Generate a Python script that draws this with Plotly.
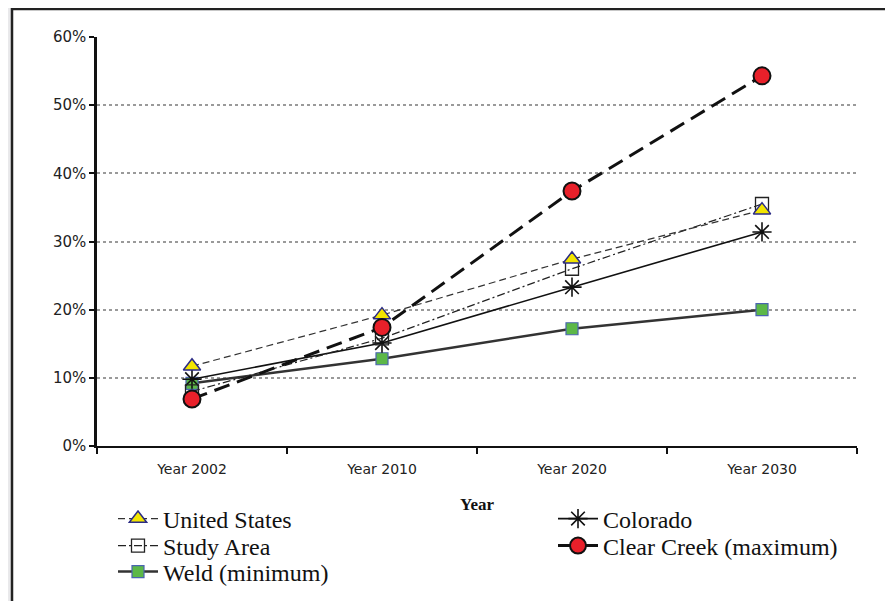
import plotly.graph_objects as go

years = ["Year 2002", "Year 2010", "Year 2020", "Year 2030"]
united_states = [11.7, 19.2, 27.4, 34.6]
study_area = [8.0, 15.8, 26.0, 35.5]
colorado = [9.8, 15.1, 23.3, 31.4]
clear_creek = [6.9, 17.4, 37.4, 54.3]
weld = [9.2, 12.8, 17.2, 20.0]
y_ticks = [0, 10, 20, 30, 40, 50, 60]
y_tick_labels = ["0%", "10%", "20%", "30%", "40%", "50%", "60%"]

# The page body adds an 8px margin, so the figure is 8px smaller and margins shifted.
W, H = 885, 593
ML, MR, MT, MB = 89, 36, 29, 155
PW, PH = W - ML - MR, H - MT - MB


def px_x(x):
    return (x - 8 - ML) / PW


def px_y(y):
    return (H - MB - (y - 8)) / PH


fig = go.Figure()

fig.add_trace(go.Scatter(
    x=years, y=weld, name="Weld (minimum)", mode="lines+markers", legend="legend3",
    line=dict(color="#333333", width=2.5),
    marker=dict(symbol="square", size=12, color="#5cb848", line=dict(color="#4a64b0", width=1.2)),
))
fig.add_trace(go.Scatter(
    x=years, y=colorado, name="Colorado", mode="lines+markers", legend="legend4",
    line=dict(color="#111111", width=1.6),
    marker=dict(symbol="asterisk-open", size=16, color="#111111", line=dict(color="#111111", width=1.6)),
))
fig.add_trace(go.Scatter(
    x=years, y=study_area, name="Study Area", mode="lines+markers", legend="legend2",
    line=dict(color="#222222", width=1.2, dash="8px,3px,2px,3px"),
    marker=dict(symbol="square-open", size=13, color="#222222", line=dict(color="#222222", width=1.3)),
))
fig.add_trace(go.Scatter(
    x=years, y=united_states, name="United States", mode="lines+markers", legend="legend",
    line=dict(color="#333333", width=1.2, dash="7px,4px"),
    marker=dict(symbol="triangle-up", size=15, color="#f2e500", line=dict(color="#2b2b85", width=1.5)),
))
fig.add_trace(go.Scatter(
    x=years, y=clear_creek, name="Clear Creek (maximum)", mode="lines+markers", legend="legend5",
    line=dict(color="#111111", width=3, dash="16px,8px"),
    marker=dict(symbol="circle", size=17, color="#e8202a", line=dict(color="#111111", width=2)),
))

legend_font = dict(family="Liberation Serif, Times New Roman, serif", size=24, color="#111111")


def leg(xpx, ypx):
    return dict(orientation="v", x=px_x(xpx), y=px_y(ypx), xanchor="left", yanchor="middle",
                font=legend_font, bgcolor="rgba(0,0,0,0)", itemwidth=40, tracegroupgap=0)


fig.update_layout(
    width=W, height=H,
    margin=dict(l=ML, r=MR, t=MT, b=MB, autoexpand=False),
    paper_bgcolor="#e9e9eb",
    plot_bgcolor="rgba(0,0,0,0)",
    showlegend=True,
    legend=leg(113, 519),
    legend2=leg(113, 546),
    legend3=leg(113, 572),
    legend4=leg(553, 519),
    legend5=leg(553, 546),
    xaxis=dict(
        type="category", range=[-0.5, 3.5], tickson="boundaries",
        showline=True, linecolor="#111111", linewidth=2,
        ticks="outside", ticklen=6, tickcolor="#111111", tickwidth=2,
        ticklabelstandoff=9,
        showgrid=False,
        tickfont=dict(family="DejaVu Sans, Verdana, sans-serif", size=14, color="#222222"),
        title=dict(text="<b>Year</b>", standoff=22,
                   font=dict(family="Liberation Serif, Times New Roman, serif", size=17, color="#111111")),
    ),
    yaxis=dict(
        range=[0, 60], tickvals=y_ticks, ticktext=y_tick_labels,
        showline=True, linecolor="#111111", linewidth=2.5,
        ticks="outside", ticklen=5, tickcolor="#111111", tickwidth=2,
        showgrid=True, gridcolor="#9a9a9a", gridwidth=2, griddash="dot",
        zeroline=False,
        tickfont=dict(family="DejaVu Sans, Verdana, sans-serif", size=15, color="#222222"),
    ),
    shapes=[
        dict(type="rect", xref="paper", yref="paper",
             x0=px_x(12), x1=px_x(890), y0=px_y(640), y1=px_y(9),
             fillcolor="white", line=dict(color="#222222", width=2.5), layer="below"),
    ],
)

fig.write_html("out.html")
